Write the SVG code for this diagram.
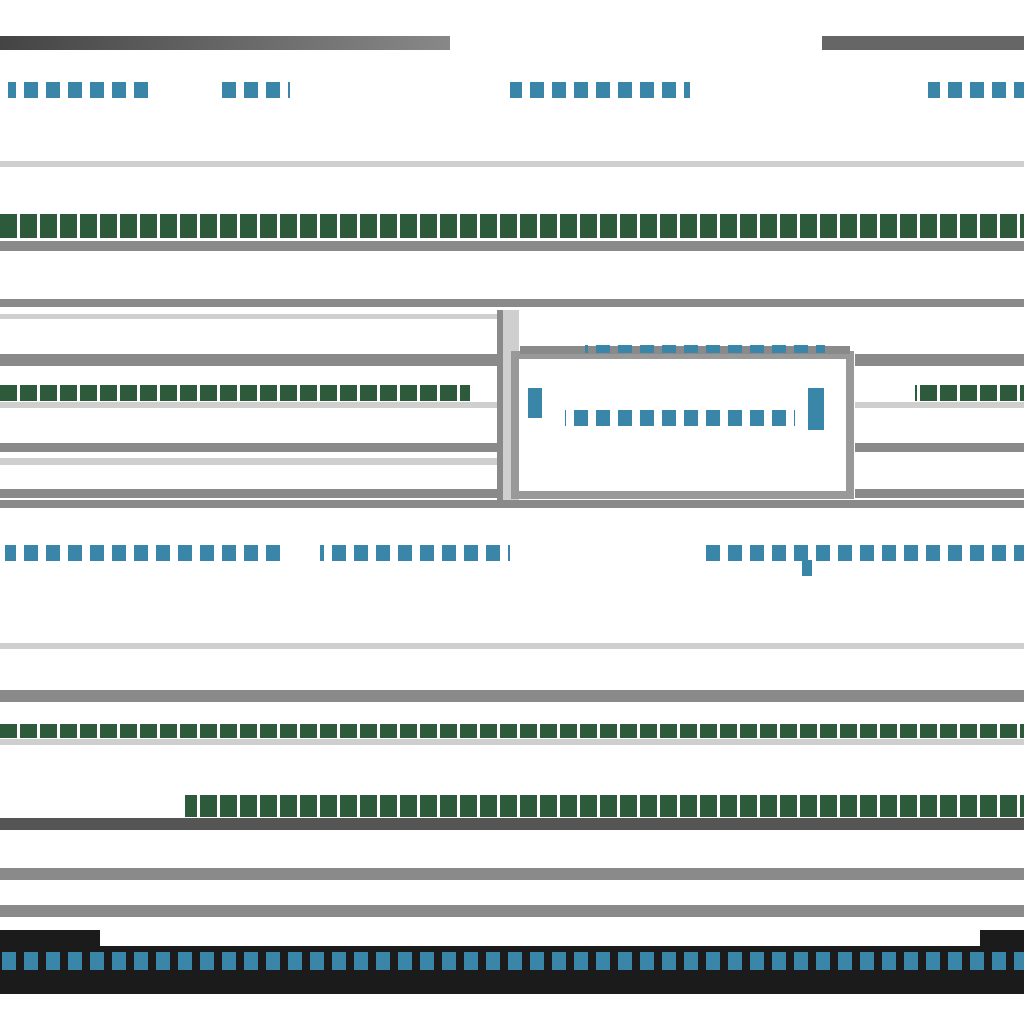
<svg xmlns="http://www.w3.org/2000/svg" width="1024" height="1024" viewBox="0 0 1024 1024">
<defs>
<style>
.ln{fill:#8a8a8a}
.lt{fill:#cfcfcf}
.dk{fill:#555}
.bl{fill:#3a86a8}
.gr{fill:#2e5a3c}
</style>
<pattern id="bp" width="22" height="16" patternUnits="userSpaceOnUse"><rect x="2" width="14" height="16" fill="#3a86a8"/></pattern>
<pattern id="gp" width="20" height="24" patternUnits="userSpaceOnUse"><rect width="17" height="24" fill="#2e5a3c"/></pattern>
<linearGradient id="tg" x1="0" x2="1"><stop offset="0" stop-color="#444"/><stop offset="1" stop-color="#888"/></linearGradient>
</defs>
<rect width="1024" height="1024" fill="#fff"/>
<rect x="0" y="36" width="450" height="14" fill="url(#tg)"/>
<rect x="822" y="36" width="202" height="14" fill="#666"/>
<rect x="8" y="82" width="140" height="16" fill="url(#bp)"/>
<rect x="220" y="82" width="70" height="16" fill="url(#bp)"/>
<rect x="510" y="82" width="180" height="16" fill="url(#bp)"/>
<rect x="928" y="82" width="96" height="16" fill="url(#bp)"/>
<rect x="0" y="161" width="1024" height="6" class="lt"/>
<rect x="0" y="214" width="1024" height="24" fill="url(#gp)"/>
<rect x="0" y="241" width="1024" height="10" class="ln"/>
<rect x="0" y="299" width="1024" height="8" class="ln"/>
<rect x="0" y="314" width="497" height="5" class="lt"/>
<rect x="0" y="354" width="497" height="12" class="ln"/>
<rect x="0" y="385" width="470" height="16" fill="url(#gp)"/>
<rect x="0" y="402" width="497" height="6" class="lt"/>
<rect x="0" y="443" width="497" height="9" class="ln"/>
<rect x="0" y="458" width="497" height="7" class="lt"/>
<rect x="0" y="489" width="497" height="9" class="ln"/>
<rect x="0" y="500" width="1024" height="8" class="ln"/>
<rect x="497" y="310" width="22" height="190" class="lt"/>
<rect x="497" y="310" width="6" height="190" class="ln"/>
<g id="box"><rect x="515" y="355" width="335" height="140" fill="none" stroke="#999" stroke-width="8"/>
<rect x="520" y="346" width="330" height="8" class="ln"/>
<rect x="585" y="345" width="240" height="8" fill="url(#bp)"/>
<rect x="528" y="388" width="14" height="30" class="bl"/>
<rect x="565" y="410" width="230" height="16" fill="url(#bp)"/>
<rect x="808" y="388" width="16" height="42" class="bl"/></g>
<rect x="855" y="354" width="169" height="12" class="ln"/>
<rect x="915" y="385" width="109" height="16" fill="url(#gp)"/>
<rect x="855" y="402" width="169" height="6" class="lt"/>
<rect x="855" y="443" width="169" height="9" class="ln"/>
<rect x="855" y="489" width="169" height="9" class="ln"/>
<rect x="5" y="545" width="275" height="16" fill="url(#bp)"/>
<rect x="320" y="545" width="190" height="16" fill="url(#bp)"/>
<rect x="705" y="545" width="319" height="16" fill="url(#bp)"/>
<rect x="802" y="560" width="10" height="16" class="bl"/>
<rect x="0" y="643" width="1024" height="6" class="lt"/>
<rect x="0" y="690" width="1024" height="12" class="ln"/>
<rect x="0" y="724" width="1024" height="14" fill="url(#gp)"/>
<rect x="0" y="739" width="1024" height="6" class="lt"/>
<rect x="185" y="795" width="839" height="22" fill="url(#gp)"/>
<rect x="0" y="818" width="1024" height="12" class="dk"/>
<rect x="0" y="868" width="1024" height="12" class="ln"/>
<rect x="0" y="905" width="1024" height="12" class="ln"/>
<rect x="0" y="930" width="1024" height="64" fill="#1b1b1b"/>
<rect x="100" y="930" width="880" height="16" fill="#fff"/>
<rect x="0" y="952" width="1024" height="18" fill="url(#bp)"/>
</svg>
